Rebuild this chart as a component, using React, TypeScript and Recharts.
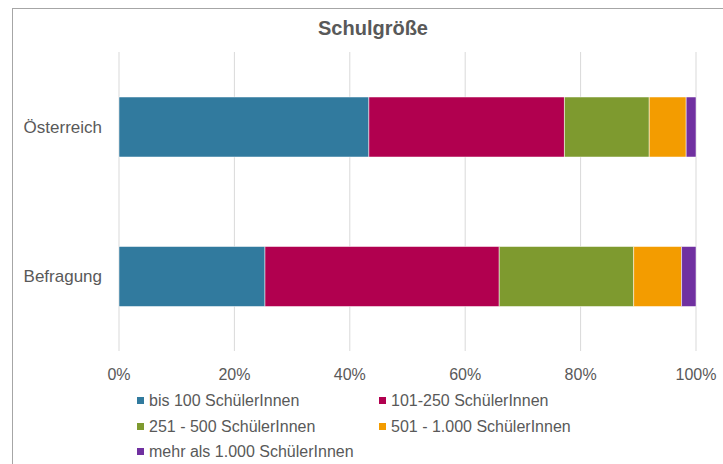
import * as React from 'react';
import { Bar, BarChart, CartesianGrid, Legend, XAxis, YAxis } from 'recharts';

const categories = ['Österreich', 'Befragung'];
const seriesNames = [
  'bis 100 SchülerInnen',
  '101-250 SchülerInnen',
  '251 - 500 SchülerInnen',
  '501 - 1.000 SchülerInnen',
  'mehr als 1.000 SchülerInnen',
];
const bis100 = [43.3, 25.3];
const von101bis250 = [33.9, 40.6];
const von251bis500 = [14.7, 23.3];
const von501bis1000 = [6.4, 8.3];
const mehrAls1000 = [1.7, 2.5];
const xTicks = [0, 20, 40, 60, 80, 100];

const seriesValues = [bis100, von101bis250, von251bis500, von501bis1000, mehrAls1000];
const colors = ['#317a9e', '#b1004f', '#7e9a2f', '#f39c00', '#7030a0'];
const textColor = '#595959';
const font = '"Liberation Sans", Arial, sans-serif';

const data = categories.map((name, i) => {
  const row: Record<string, string | number> = { name };
  seriesNames.forEach((s, k) => {
    row[s] = seriesValues[k][i];
  });
  return row;
});

// legend in the original series order (recharts would sort it by name)
function LegendBox() {
  return (
    <div
      style={{
        display: 'grid',
        gridTemplateColumns: '242px 280px',
        paddingLeft: 137,
        fontFamily: font,
        fontSize: 16,
        lineHeight: '25.5px',
        color: textColor,
      }}
    >
      {seriesNames.map((s, k) => (
        <div key={s} style={{ display: 'flex', alignItems: 'center', whiteSpace: 'nowrap' }}>
          <span style={{ width: 7, height: 7, background: colors[k], marginRight: 5, display: 'inline-block' }} />
          <span>{s}</span>
        </div>
      ))}
    </div>
  );
}

export default function App() {
  return (
    <div
      style={{
        position: 'absolute',
        left: 0,
        top: 0,
        width: 723,
        height: 464,
        overflow: 'hidden',
        background: '#fff',
        fontFamily: font,
      }}
    >
      <div
        style={{
          position: 'absolute',
          left: 12,
          top: 8,
          width: 800,
          height: 600,
          border: '1px solid #a6a6a6',
        }}
      />
      <div
        style={{
          position: 'absolute',
          left: 0,
          top: 17,
          width: 746,
          textAlign: 'center',
          fontSize: 20,
          fontWeight: 'bold',
          color: textColor,
        }}
      >
        Schulgröße
      </div>
      <div style={{ position: 'absolute', left: 0, top: 0 }}>
        <BarChart
          width={723}
          height={464}
          data={data}
          layout="vertical"
          margin={{ top: 52, right: 27, bottom: 83, left: 0 }}
        >
          <CartesianGrid horizontal={false} stroke="#d9d9d9" />
          <XAxis
            type="number"
            domain={[0, 100]}
            ticks={xTicks}
            tickFormatter={(v) => `${v}%`}
            axisLine={false}
            tickLine={false}
            tickSize={0}
            tickMargin={18}
            height={30}
            tick={{ fill: textColor, fontSize: 16, fontFamily: font }}
          />
          <YAxis
            type="category"
            dataKey="name"
            width={119}
            axisLine={false}
            tickLine={false}
            tickSize={0}
            tickMargin={17}
            tick={{ fill: textColor, fontSize: 17, fontFamily: font }}
          />
          <Legend
            layout="horizontal"
            verticalAlign="middle"
            align="center"
            wrapperStyle={{ top: 388, left: 0, width: 723 }}
            content={<LegendBox />}
          />
          {seriesNames.map((s, k) => (
            <Bar
              key={s}
              dataKey={s}
              stackId="a"
              fill={colors[k]}
              barSize={60}
              stroke="#ffffff"
              strokeWidth={0.5}
              isAnimationActive={false}
            />
          ))}
        </BarChart>
      </div>
    </div>
  );
}
